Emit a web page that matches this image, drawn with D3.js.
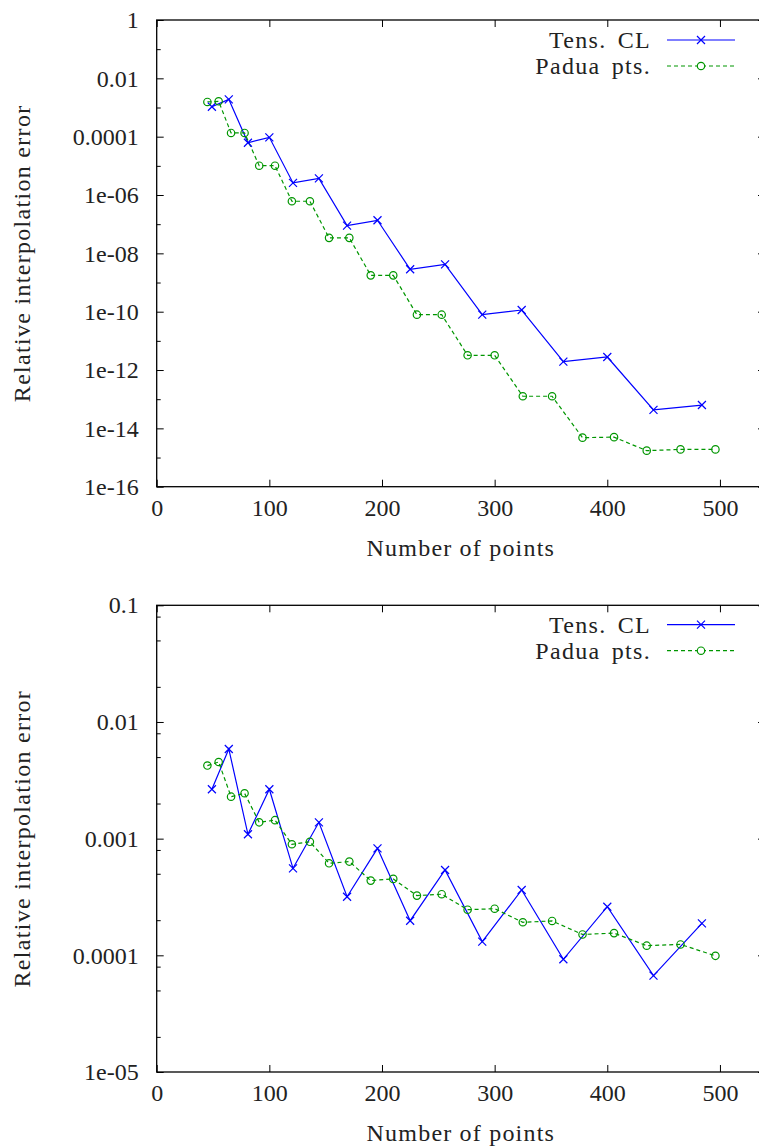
<!DOCTYPE html>
<html>
<head>
<meta charset="utf-8">
<script src="https://cdn.jsdelivr.net/npm/d3@7"></script>
<style>
  body { margin: 0; background: #fff; }
  svg text { font-family: "Liberation Serif", "DejaVu Serif", serif; fill: #222; }
</style>
</head>
<body>
<div id="chart"></div>
<script>
// number of points for each family
var tensPoints = [49, 64, 81, 100, 121, 144, 169, 196, 225, 256, 289, 324, 361, 400, 441, 484];
var paduaPoints = [45, 55, 66, 78, 91, 105, 120, 136, 153, 171, 190, 210, 231, 253, 276, 300, 325, 351, 378, 406, 435, 465, 496];

// top panel errors
var tensErrTop = [1.06e-3, 1.9e-3, 6.2e-5, 9.5e-5, 2.6e-6, 3.7e-6, 8.9e-8, 1.36e-7, 2.84e-9, 4.2e-9,
    7.9e-11, 1.14e-10, 1.94e-12, 2.8e-12, 4.3e-14, 6.3e-14];
var paduaErrTop = [1.55e-3, 1.63e-3, 1.34e-4, 1.34e-4, 1.01e-5, 1.01e-5, 6.1e-7, 6.1e-7, 3.4e-8, 3.4e-8,
    1.76e-9, 1.76e-9, 7.9e-11, 7.9e-11, 3.2e-12, 3.2e-12, 1.26e-13, 1.26e-13, 4.8e-15, 5.0e-15,
    1.72e-15, 1.9e-15, 1.9e-15];

// bottom panel errors
var tensErrBottom = [2.65e-3, 5.87e-3, 1.09e-3, 2.65e-3, 5.57e-4, 1.38e-3, 3.18e-4, 8.26e-4, 1.98e-4, 5.39e-4,
    1.31e-4, 3.63e-4, 9.25e-5, 2.61e-4, 6.7e-5, 1.88e-4];
var paduaErrBottom = [4.23e-3, 4.54e-3, 2.29e-3, 2.45e-3, 1.38e-3, 1.44e-3, 8.95e-4, 9.4e-4, 6.15e-4, 6.36e-4,
    4.37e-4, 4.52e-4, 3.25e-4, 3.34e-4, 2.46e-4, 2.51e-4, 1.92e-4, 1.97e-4, 1.51e-4, 1.55e-4,
    1.21e-4, 1.24e-4, 9.9e-5];

// ticks
var xTicks = [0, 100, 200, 300, 400, 500];
var topTicks = [1, 1e-2, 1e-4, 1e-6, 1e-8, 1e-10, 1e-12, 1e-14, 1e-16];
var topTickLabels = ["1", "0.01", "0.0001", "1e-06", "1e-08", "1e-10", "1e-12", "1e-14", "1e-16"];
var topMinor = [1e-1, 1e-3, 1e-5, 1e-7, 1e-9, 1e-11, 1e-13, 1e-15];
var bottomTicks = [1e-1, 1e-2, 1e-3, 1e-4, 1e-5];
var bottomTickLabels = ["0.1", "0.01", "0.001", "0.0001", "1e-05"];
var bottomMinor = [8e-2, 5e-2, 2e-2, 8e-3, 5e-3, 2e-3, 8e-4, 5e-4, 2e-4, 8e-5, 5e-5, 2e-5];

var seriesNames = ["Tens. CL", "Padua pts."];

var svgWidth = 759;
var svgHeight = 1148;
var serif = "'Liberation Serif', 'DejaVu Serif', serif";

var svg = d3.select("#chart")
    .append("svg")
    .attr("width", svgWidth)
    .attr("height", svgHeight);

var left = 156.7;
var right = 765;
var blue = "#0000ff";
var green = "#009600";

function drawPanel(top, bottom, yDomain, major, majorLabels, minor, tensErr, paduaErr, legendY) {
    var x = d3.scaleLinear().domain([0, 540]).range([left, right]);
    var y = d3.scaleLog().domain(yDomain).range([bottom, top]);

    var g = svg.append("g");

    // minor y ticks, left and right
    g.append("g")
        .attr("transform", `translate(${left},0)`)
        .call(d3.axisLeft(y).tickValues(minor).tickSize(-4).tickFormat(""));
    g.append("g")
        .attr("transform", `translate(${right},0)`)
        .call(d3.axisRight(y).tickValues(minor).tickSize(-4).tickFormat(""));

    // major y ticks
    g.append("g")
        .attr("transform", `translate(${left},0)`)
        .call(d3.axisLeft(y).tickValues(major).tickSize(-7).tickPadding(18)
            .tickFormat((d, i) => majorLabels[i]));
    g.append("g")
        .attr("transform", `translate(${right},0)`)
        .call(d3.axisRight(y).tickValues(major).tickSize(-7).tickFormat(""));

    // x ticks, bottom and top
    g.append("g")
        .attr("transform", `translate(0,${bottom})`)
        .call(d3.axisBottom(x).tickValues(xTicks).tickSize(-7).tickPadding(12));
    g.append("g")
        .attr("transform", `translate(0,${top})`)
        .call(d3.axisTop(x).tickValues(xTicks).tickSize(-7).tickFormat(""));

    g.selectAll(".domain").remove();
    g.selectAll(".tick line").attr("stroke", "#000").attr("stroke-width", 1);
    g.selectAll(".tick text")
        .style("font-family", serif)
        .style("font-size", "24px")
        .attr("fill", "#222");

    // border
    g.append("rect")
        .attr("x", left)
        .attr("y", top)
        .attr("width", right - left)
        .attr("height", bottom - top)
        .attr("fill", "none")
        .attr("stroke", "#000")
        .attr("stroke-width", 1.3);

    // axis titles
    g.append("text")
        .attr("x", (left + right) / 2)
        .attr("y", bottom + 69)
        .style("font-size", "24px")
        .style("letter-spacing", "1.2px")
        .style("text-anchor", "middle")
        .text("Number of points");

    g.append("text")
        .attr("transform", "rotate(-90)")
        .attr("x", -(top + bottom) / 2)
        .attr("y", 30)
        .style("font-size", "24px")
        .style("letter-spacing", "1.3px")
        .style("text-anchor", "middle")
        .text("Relative interpolation error");

    var line = d3.line()
        .x(d => x(d[0]))
        .y(d => y(d[1]));

    var tensData = d3.zip(tensPoints, tensErr);
    var paduaData = d3.zip(paduaPoints, paduaErr);

    g.append("path")
        .datum(tensData)
        .attr("d", line)
        .attr("fill", "none")
        .attr("stroke", blue)
        .attr("stroke-width", 1.2);

    g.append("path")
        .datum(paduaData)
        .attr("d", line)
        .attr("fill", "none")
        .attr("stroke", green)
        .attr("stroke-width", 1.2)
        .attr("stroke-dasharray", "4,3");

    g.selectAll(".cross")
        .data(tensData)
        .enter()
        .append("path")
        .attr("transform", d => `translate(${x(d[0])},${y(d[1])})`)
        .attr("d", "M-4,-4L4,4M-4,4L4,-4")
        .attr("stroke", blue)
        .attr("stroke-width", 1.2);

    g.selectAll(".ring")
        .data(paduaData)
        .enter()
        .append("circle")
        .attr("cx", d => x(d[0]))
        .attr("cy", d => y(d[1]))
        .attr("r", 3.7)
        .attr("fill", "none")
        .attr("stroke", green)
        .attr("stroke-width", 1.2);

    // legend
    var legend = g.append("g");
    seriesNames.forEach(function (name, i) {
        var ly = legendY + i * 26;
        legend.append("text")
            .attr("x", 651)
            .attr("y", ly + 8)
            .style("font-size", "24px")
            .style("letter-spacing", "1.3px")
            .style("word-spacing", "4px")
            .style("text-anchor", "end")
            .text(name);
        legend.append("line")
            .attr("x1", 667)
            .attr("x2", 735)
            .attr("y1", ly)
            .attr("y2", ly)
            .attr("stroke", i == 0 ? blue : green)
            .attr("stroke-width", 1.2)
            .attr("stroke-dasharray", i == 0 ? null : "4,3");
        if (i == 0) {
            legend.append("path")
                .attr("transform", `translate(701,${ly})`)
                .attr("d", "M-4,-4L4,4M-4,4L4,-4")
                .attr("stroke", blue)
                .attr("stroke-width", 1.2);
        } else {
            legend.append("circle")
                .attr("cx", 701)
                .attr("cy", ly)
                .attr("r", 3.7)
                .attr("fill", "#fff")
                .attr("stroke", green)
                .attr("stroke-width", 1.2);
        }
    });
}

drawPanel(20, 486.7, [1e-16, 1], topTicks, topTickLabels, topMinor, tensErrTop, paduaErrTop, 40);
drawPanel(605.3, 1072, [1e-5, 1e-1], bottomTicks, bottomTickLabels, bottomMinor, tensErrBottom, paduaErrBottom, 624.7);
</script>
</body>
</html>
